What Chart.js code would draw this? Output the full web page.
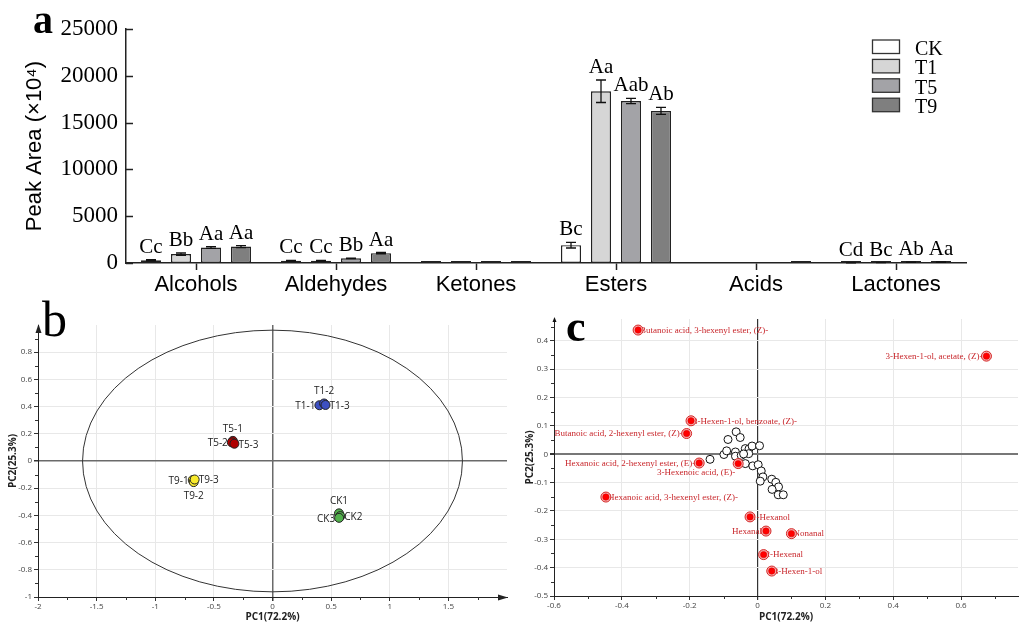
<!DOCTYPE html>
<html>
<head>
<meta charset="utf-8">
<script src="https://cdn.jsdelivr.net/npm/chart.js@4.4.1/dist/chart.umd.min.js"></script>
<style>
  html, body { margin: 0; padding: 0; background: #fff; }
  #wrap { position: relative; width: 1024px; height: 623px; overflow: hidden; }
  #wrap canvas { position: absolute; }
  .tag { position: absolute; font-family: "Liberation Serif", "Times New Roman", serif; color: #000; line-height: 1; }
</style>
</head>
<body>
<div id="wrap">
  <canvas id="barChart" width="1024" height="300" style="left:0;top:0"></canvas>
  <canvas id="scoreChart" width="520" height="323" style="left:0;top:300px"></canvas>
  <canvas id="loadChart" width="504" height="323" style="left:520px;top:300px"></canvas>
  <div class="tag" style="left:33px;top:0px;font-size:40px;font-weight:bold">a</div>
  <div class="tag" style="left:42px;top:294px;font-size:50px">b</div>
  <div class="tag" style="left:566px;top:305px;font-size:44px;font-weight:bold">c</div>
</div>
<script>
// ---- panel a: peak areas by compound class ----
const categories = ['Alcohols', 'Aldehydes', 'Ketones', 'Esters', 'Acids', 'Lactones'];
const treatments = ['CK', 'T1', 'T5', 'T9'];
const ckValues = [300, 250, 20, 1900, null, 10];
const t1Values = [950, 250, 20, 18350, null, 40];
const t5Values = [1650, 500, 20, 17300, null, 70];
const t9Values = [1750, 1050, 20, 16250, 40, 90];
const ckErrors = [60, 40, 0, 300, 0, 5];
const t1Errors = [120, 40, 0, 1200, 0, 10];
const t5Errors = [90, 30, 0, 280, 0, 10];
const t9Errors = [100, 70, 0, 380, 0, 15];
const ckLetters = ['Cc', 'Cc', '', 'Bc', '', 'Cd'];
const t1Letters = ['Bb', 'Cc', '', 'Aa', '', 'Bc'];
const t5Letters = ['Aa', 'Bb', '', 'Aab', '', 'Ab'];
const t9Letters = ['Aa', 'Aa', '', 'Ab', '', 'Aa'];
const yTicksA = [0, 5000, 10000, 15000, 20000, 25000];

// ---- panel b: PCA scores ----
const scoreNames = ['CK1', 'CK2', 'CK3', 'T1-1', 'T1-2', 'T1-3', 'T5-1', 'T5-2', 'T5-3', 'T9-1', 'T9-2', 'T9-3'];
const scoreGroup = ['CK', 'CK', 'CK', 'T1', 'T1', 'T1', 'T5', 'T5', 'T5', 'T9', 'T9', 'T9'];
const scoreX = [0.567, 0.578, 0.568, 0.400, 0.440, 0.452, -0.338, -0.347, -0.325, -0.680, -0.672, -0.664];
const scoreY = [-0.385, -0.405, -0.418, 0.410, 0.423, 0.412, 0.148, 0.137, 0.127, -0.140, -0.155, -0.136];
const ellipseRadii = [1.62, 0.962];
const xTicksB = [-2, -1.5, -1, -0.5, 0, 0.5, 1, 1.5];
const yTicksB = [-1, -0.8, -0.6, -0.4, -0.2, 0, 0.2, 0.4, 0.6, 0.8];
const xMinorB = [-1.75, -1.25, -0.75, -0.25, 0.25, 0.75, 1.25, 1.75];
const yMinorB = [-0.9, -0.7, -0.5, -0.3, -0.1, 0.1, 0.3, 0.5, 0.7, 0.9];

// ---- panel c: PCA loadings ----
const markerNames = ['Butanoic acid, 3-hexenyl ester, (Z)-', '3-Hexen-1-ol, acetate, (Z)-', '3-Hexen-1-ol, benzoate, (Z)-',
  'Butanoic acid, 2-hexenyl ester, (Z)-', 'Hexanoic acid, 2-hexenyl ester, (E)-', '3-Hexenoic acid, (E)-',
  'Hexanoic acid, 3-hexenyl ester, (Z)-', '1-Hexanol', 'Hexanal', 'Nonanal', '2-Hexenal', '3-Hexen-1-ol'];
const markerX = [-0.352, 0.675, -0.196, -0.209, -0.172, -0.057, -0.447, -0.022, 0.025, 0.100, 0.018, 0.042];
const markerY = [0.438, 0.346, 0.118, 0.073, -0.031, -0.033, -0.151, -0.221, -0.271, -0.280, -0.354, -0.412];
const otherX = [-0.063, -0.087, -0.051, -0.140, -0.099, -0.091, -0.065, -0.065, -0.048, -0.036, -0.025, -0.016, 0.006,
  -0.026, -0.036, -0.014, 0.002, 0.011, 0.016, 0.008, 0.042, 0.054, 0.062, 0.043, 0.061, 0.076, -0.041];
const otherY = [0.079, 0.052, 0.059, -0.018, -0.001, 0.012, 0.008, -0.007, -0.004, 0.020, 0.019, 0.029, 0.030,
  0.002, -0.033, -0.041, -0.037, -0.059, -0.080, -0.095, -0.088, -0.099, -0.115, -0.124, -0.143, -0.143, 0.001];
const xTicksC = [-0.6, -0.4, -0.2, 0, 0.2, 0.4, 0.6];
const yTicksC = [-0.5, -0.4, -0.3, -0.2, -0.1, 0, 0.1, 0.2, 0.3, 0.4];
const xMinorC = [-0.5, -0.3, -0.1, 0.1, 0.3, 0.5, 0.7];
const yMinorC = [-0.45, -0.35, -0.25, -0.15, -0.05, 0.05, 0.15, 0.25, 0.35, 0.45];

// styles (kept apart from the data)
const barFills = ['#ffffff', '#d6d6d6', '#a3a3a7', '#7f7f7f'];
const groupColors = { CK: '#52b04c', T1: '#3d50c2', T5: '#b00000', T9: '#f8ea2c' };
const scoreLabelSide = ['above', 'right', 'left', 'left', 'above', 'right', 'above', 'left', 'right', 'left', 'below', 'right'];
const markerLabelSide = ['right', 'left', 'right', 'left', 'left', 'belowLeft', 'right', 'right', 'left', 'right', 'right', 'right'];
const SERIF = '"Liberation Serif", "Times New Roman", serif';
const SANS = '"Liberation Sans", Arial, sans-serif';
const UI = '"Open Sans", "DejaVu Sans", sans-serif';

const seriesValues = [ckValues, t1Values, t5Values, t9Values];
const seriesErrors = [ckErrors, t1Errors, t5Errors, t9Errors];
const seriesLetters = [ckLetters, t1Letters, t5Letters, t9Letters];

function fixedTicks(list) {
  return ax => { ax.ticks = list.map(v => ({ value: v })); };
}
function fmt(v) { return String(Math.round(v * 100) / 100); }

// error bars, significance letters, inward y ticks and legend for panel a
const barExtras = {
  id: 'barExtras',
  afterDatasetsDraw(chart) {
    const { ctx, chartArea: area, scales: { y } } = chart;
    ctx.save();
    ctx.strokeStyle = '#222';
    ctx.lineWidth = 1.5;
    ctx.beginPath();
    yTicksA.forEach(v => {
      const py = Math.round(y.getPixelForValue(v)) + 0.5;
      ctx.moveTo(area.left, py);
      ctx.lineTo(area.left + 7, py);
    });
    ctx.stroke();

    ctx.font = '21px ' + SERIF;
    ctx.textAlign = 'center';
    ctx.textBaseline = 'alphabetic';
    ctx.fillStyle = '#000';
    chart.data.datasets.forEach((ds, i) => {
      const meta = chart.getDatasetMeta(i);
      meta.data.forEach((bar, j) => {
        const v = ds.data[j];
        if (v == null) return;
        const err = seriesErrors[i][j];
        const top = y.getPixelForValue(v + err);
        if (err > 0) {
          const bot = y.getPixelForValue(v - err);
          ctx.lineWidth = 1.3;
          ctx.strokeStyle = '#111';
          ctx.beginPath();
          ctx.moveTo(bar.x, top); ctx.lineTo(bar.x, bot);
          ctx.moveTo(bar.x - 5, top); ctx.lineTo(bar.x + 5, top);
          ctx.moveTo(bar.x - 5, bot); ctx.lineTo(bar.x + 5, bot);
          ctx.stroke();
        }
        const txt = seriesLetters[i][j];
        if (txt) ctx.fillText(txt, bar.x, Math.min(top, y.getPixelForValue(v)) - 7);
      });
    });

    // legend
    ctx.font = '20px ' + SERIF;
    ctx.textAlign = 'left';
    chart.data.datasets.forEach((ds, i) => {
      const bx = 872.5, by = 40 + i * 19.4;
      ctx.fillStyle = ds.backgroundColor;
      ctx.fillRect(bx, by, 27, 13.5);
      ctx.strokeStyle = '#333';
      ctx.lineWidth = 1.3;
      ctx.strokeRect(bx, by, 27, 13.5);
      ctx.fillStyle = '#000';
      ctx.fillText(ds.label, 915, by + 15);
    });
    ctx.restore();
  }
};

new Chart(document.getElementById('barChart'), {
  type: 'bar',
  data: {
    labels: categories,
    datasets: treatments.map((name, i) => ({
      label: name,
      data: seriesValues[i],
      backgroundColor: barFills[i],
      borderColor: '#222',
      borderWidth: 1.4,
      borderSkipped: false,
      minBarLength: 2,
      categoryPercentage: 0.857,
      barPercentage: 0.667
    }))
  },
  options: {
    responsive: false,
    animation: false,
    layout: { padding: { top: 29, right: 58, left: 0, bottom: 0 } },
    plugins: { legend: { display: false }, tooltip: { enabled: false } },
    scales: {
      x: {
        grid: { offset: false, drawOnChartArea: false, drawTicks: true, tickLength: 7, tickColor: '#222', tickWidth: 1.5 },
        border: { color: '#222', width: 1.5 },
        ticks: { font: { family: SANS, size: 22 }, color: '#000', padding: 2, maxRotation: 0 },
        afterFit: s => { s.height = 37; }
      },
      y: {
        min: 0,
        max: 25000,
        afterBuildTicks: fixedTicks(yTicksA),
        grid: { display: false, drawTicks: false },
        border: { color: '#222', width: 1.5 },
        ticks: { font: { family: SERIF, size: 23 }, color: '#000', padding: 8, callback: v => String(v) },
        title: { display: true, text: 'Peak Area (×10⁴)', font: { family: SANS, size: 22 }, color: '#000', padding: { top: 22, bottom: 0 } },
        afterFit: s => { s.width = 126; }
      }
    }
  },
  plugins: [barExtras]
});

// shared helpers for the PCA panels
function drawMinorTicks(chart, xs, ys) {
  const { ctx, chartArea: a, scales: { x, y } } = chart;
  ctx.save();
  ctx.strokeStyle = '#333';
  ctx.lineWidth = 1;
  ctx.beginPath();
  xs.forEach(v => {
    const px = Math.round(x.getPixelForValue(v)) + 0.5;
    ctx.moveTo(px, a.bottom); ctx.lineTo(px, a.bottom + 3);
  });
  ys.forEach(v => {
    const py = Math.round(y.getPixelForValue(v)) + 0.5;
    ctx.moveTo(a.left, py); ctx.lineTo(a.left - 3, py);
  });
  ctx.stroke();
  ctx.restore();
}

function pcaScales(xMin, xMax, yMin, yMax, xTicks, yTicks, yWidth, xHeight, yTitlePad, vZero, hZero) {
  const tickFont = { family: UI, size: 8 };
  const titleFont = { family: UI, size: 10, weight: 'bold' };
  return {
    x: {
      type: 'linear', min: xMin, max: xMax,
      afterBuildTicks: fixedTicks(xTicks),
      grid: {
        color: c => (c.tick && c.tick.value === 0 ? vZero.color : '#e8e8e8'),
        lineWidth: c => (c.tick && c.tick.value === 0 ? vZero.width : 1),
        tickColor: '#333', tickLength: 4, drawTicks: true
      },
      border: { color: '#222', width: 1 },
      ticks: { font: tickFont, color: '#444', padding: 1, maxRotation: 0, callback: fmt },
      title: { display: true, text: 'PC1(72.2%)', font: titleFont, color: '#222', padding: { top: 0, bottom: 0 } },
      afterFit: s => { s.height = xHeight; }
    },
    y: {
      type: 'linear', min: yMin, max: yMax,
      afterBuildTicks: fixedTicks(yTicks),
      grid: {
        color: c => (c.tick && c.tick.value === 0 ? hZero.color : '#e8e8e8'),
        lineWidth: c => (c.tick && c.tick.value === 0 ? hZero.width : 1),
        tickColor: '#333', tickLength: 4, drawTicks: true
      },
      border: { color: '#222', width: 1 },
      ticks: { font: tickFont, color: '#444', padding: 2, callback: fmt },
      title: { display: true, text: 'PC2(25.3%)', font: titleFont, color: '#222', padding: { top: yTitlePad, bottom: 0 } },
      afterFit: s => { s.width = yWidth; }
    }
  };
}

// ---- panel b chart ----
const scoreExtras = {
  id: 'scoreExtras',
  beforeDatasetsDraw(chart) {
    const { ctx, scales: { x, y } } = chart;
    const cx = x.getPixelForValue(0), cy = y.getPixelForValue(0);
    const rx = x.getPixelForValue(ellipseRadii[0]) - cx;
    const ry = cy - y.getPixelForValue(ellipseRadii[1]);
    ctx.save();
    ctx.strokeStyle = '#333';
    ctx.lineWidth = 1;
    ctx.beginPath();
    ctx.ellipse(cx, cy, rx, ry, 0, 0, Math.PI * 2);
    ctx.stroke();
    ctx.restore();
  },
  afterDatasetsDraw(chart) {
    const { ctx, scales: { x, y } } = chart;
    ctx.save();
    ctx.font = '10px ' + UI;
    ctx.fillStyle = '#222';
    scoreNames.forEach((name, i) => {
      const px = x.getPixelForValue(scoreX[i]), py = y.getPixelForValue(scoreY[i]);
      const side = scoreLabelSide[i];
      ctx.textBaseline = 'middle';
      if (side === 'above') { ctx.textAlign = 'center'; ctx.fillText(name, px, py - 12); }
      else if (side === 'below') { ctx.textAlign = 'center'; ctx.fillText(name, px, py + 14); }
      else if (side === 'left') { ctx.textAlign = 'right'; ctx.fillText(name, px - 4, py + 1); }
      else { ctx.textAlign = 'left'; ctx.fillText(name, px + 4, py + 1); }
    });
    ctx.restore();
  },
  afterDraw(chart) {
    drawMinorTicks(chart, xMinorB, yMinorB);
    const { ctx, chartArea: a } = chart;
    ctx.save();
    ctx.fillStyle = '#222';
    ctx.beginPath();
    ctx.moveTo(a.left + 0.5, a.top - 1); ctx.lineTo(a.left - 2.5, a.top + 8); ctx.lineTo(a.left + 3.5, a.top + 8);
    ctx.closePath(); ctx.fill();
    ctx.beginPath();
    ctx.moveTo(a.right + 1, a.bottom + 0.5); ctx.lineTo(a.right - 9, a.bottom - 2.5); ctx.lineTo(a.right - 9, a.bottom + 3.5);
    ctx.closePath(); ctx.fill();
    ctx.restore();
  }
};

new Chart(document.getElementById('scoreChart'), {
  type: 'scatter',
  data: {
    datasets: Object.keys(groupColors).map(g => ({
      label: g,
      data: scoreNames.map((n, i) => ({ x: scoreX[i], y: scoreY[i], g: scoreGroup[i] })).filter(p => p.g === g),
      backgroundColor: groupColors[g],
      borderColor: '#222',
      borderWidth: 1,
      pointRadius: 4.5
    }))
  },
  options: {
    responsive: false,
    animation: false,
    layout: { padding: { top: 25, right: 13, left: 0, bottom: 0 } },
    plugins: { legend: { display: false }, tooltip: { enabled: false } },
    scales: pcaScales(-2, 2, -1, 1, xTicksB, yTicksB, 38, 26, 7,
      { color: '#6a6a6a', width: 1.5 }, { color: '#6a6a6a', width: 1.5 })
  },
  plugins: [scoreExtras]
});

// ---- panel c chart ----
const loadExtras = {
  id: 'loadExtras',
  beforeDatasetsDraw(chart) {
    const { ctx, scales: { x, y } } = chart;
    ctx.save();
    ctx.font = '9px ' + SERIF;
    ctx.fillStyle = '#c8262b';
    ctx.textBaseline = 'middle';
    markerNames.forEach((name, i) => {
      const px = x.getPixelForValue(markerX[i]), py = y.getPixelForValue(markerY[i]);
      const side = markerLabelSide[i];
      if (side === 'left') { ctx.textAlign = 'right'; ctx.fillText(name, px - 4, py + 0.5); }
      else if (side === 'belowLeft') { ctx.textAlign = 'right'; ctx.fillText(name, px - 3, py + 9.5); }
      else { ctx.textAlign = 'left'; ctx.fillText(name, px + 2, py + 0.5); }
    });
    ctx.restore();
  },
  afterDraw(chart) {
    drawMinorTicks(chart, xMinorC, yMinorC);
    const { ctx, chartArea: a } = chart;
    ctx.save();
    ctx.fillStyle = '#111';
    ctx.beginPath();
    ctx.moveTo(a.left + 0.5, a.top - 2); ctx.lineTo(a.left - 1.5, a.top + 3); ctx.lineTo(a.left + 2.5, a.top + 3);
    ctx.closePath(); ctx.fill();
    ctx.restore();
  }
};

const markerPoints = markerNames.map((n, i) => ({ x: markerX[i], y: markerY[i] }));
new Chart(document.getElementById('loadChart'), {
  type: 'scatter',
  data: {
    datasets: [
      {
        label: 'marker core', data: markerPoints, order: 0,
        backgroundColor: '#ff0000', borderColor: '#e00000', borderWidth: 0.5, pointRadius: 3.2
      },
      {
        label: 'marker ring', data: markerPoints, order: 1,
        backgroundColor: '#f4b4b4', borderColor: '#d42424', borderWidth: 1, pointRadius: 5
      },
      {
        label: 'other', data: otherX.map((v, i) => ({ x: v, y: otherY[i] })), order: 2,
        backgroundColor: '#ffffff', borderColor: '#111', borderWidth: 1, pointRadius: 4
      }
    ]
  },
  options: {
    responsive: false,
    animation: false,
    layout: { padding: { top: 19, right: 0, left: 0, bottom: 0 } },
    plugins: { legend: { display: false }, tooltip: { enabled: false } },
    scales: pcaScales(-0.6, 0.768, -0.5, 0.477, xTicksC, yTicksC, 34, 27, 4,
      { color: '#333', width: 1.2 }, { color: '#777', width: 2 })
  },
  plugins: [loadExtras]
});
</script>
</body>
</html>
